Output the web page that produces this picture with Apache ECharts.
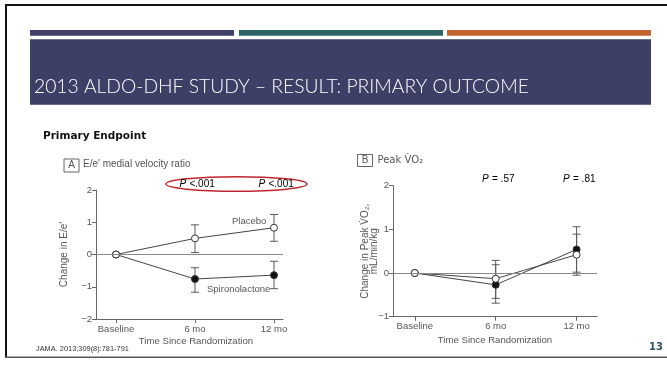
<!DOCTYPE html>
<html><head><meta charset="utf-8">
<script src="https://cdn.jsdelivr.net/npm/echarts@6/dist/echarts.min.js"></script>
<style>html,body{margin:0;padding:0;background:#fff}#c{width:667px;height:379px}</style>
</head><body><div id="c"></div>
<script>
const categories = ['Baseline', '6 mo', '12 mo'];
const xIdx = [0, 1, 2];
// Panel A: E/e' medial velocity ratio
const aPlacebo = [0, 0.50, 0.83];
const aPlaceboLow = [null, 0.06, 0.41];
const aPlaceboHigh = [null, 0.92, 1.24];
const aSpiro = [0, -0.76, -0.64];
const aSpiroLow = [null, -1.17, -1.06];
const aSpiroHigh = [null, -0.41, -0.21];
// Panel B: Peak VO2
const bPlacebo = [0, -0.13, 0.42];
const bPlaceboLow = [null, -0.58, -0.05];
const bPlaceboHigh = [null, 0.29, 0.89];
const bSpiro = [0, -0.27, 0.54];
const bSpiroLow = [null, -0.69, 0.02];
const bSpiroHigh = [null, 0.19, 1.06];
const aTicks = [-2, -1, 0, 1, 2];
const bTicks = [-1, 0, 1, 2];
const aPvals = ['<.001', '<.001'];
const bPvals = ['= .57', '= .81'];

const chart = echarts.init(document.getElementById('c'));
const FONT = 'Liberation Sans';
const pts = (ys) => xIdx.map((x, i) => [x, ys[i]]);
const errs = (lo, hi) => xIdx.filter((x, i) => lo[i] !== null).map((x) => [x, lo[x], hi[x]]);

function errRender(params, api) {
  const x = api.value(0);
  const lo = api.coord([x, api.value(1)]);
  const hi = api.coord([x, api.value(2)]);
  const w = 4;
  const st = { stroke: '#5a5a5a', lineWidth: 1 };
  return { type: 'group', children: [
    { type: 'line', shape: { x1: lo[0], y1: lo[1], x2: hi[0], y2: hi[1] }, style: st },
    { type: 'line', shape: { x1: lo[0] - w, y1: lo[1], x2: lo[0] + w, y2: lo[1] }, style: st },
    { type: 'line', shape: { x1: hi[0] - w, y1: hi[1], x2: hi[0] + w, y2: hi[1] }, style: st }
  ]};
}

function xAxisDef(gi, min, max) {
  return {
    type: 'value', gridIndex: gi, min: min, max: max, position: 'bottom',
    axisLine: { onZero: false, lineStyle: { color: '#666', width: 1 } },
    axisTick: { show: true, customValues: xIdx, length: 4, lineStyle: { color: '#666' } },
    axisLabel: { customValues: xIdx, formatter: (v) => categories[Math.round(v)], color: '#555', fontSize: 9.5, fontFamily: FONT, margin: 5 },
    splitLine: { show: false }
  };
}
function yAxisDef(gi, ticks, name, gap) {
  return {
    type: 'value', gridIndex: gi, min: ticks[0], max: ticks[ticks.length - 1], interval: 1,
    axisLine: { show: true, onZero: false, lineStyle: { color: '#666', width: 1 } },
    axisTick: { show: true, length: 4, lineStyle: { color: '#666' } },
    axisLabel: { color: '#555', fontSize: 9.5, fontFamily: FONT, margin: 4, formatter: (v) => v < 0 ? '\u2212' + Math.abs(v) : String(v) },
    splitLine: { show: false },
    name: name, nameLocation: 'middle', nameGap: gap, nameMoveOverlap: false,
    nameTextStyle: { color: '#555', fontSize: 10, fontFamily: FONT, lineHeight: 9 }
  };
}
const zeroLine = { silent: true, symbol: 'none', label: { show: false }, lineStyle: { color: '#888', type: 'solid', width: 1 }, data: [{ yAxis: 0 }] };
function lineSeries(gi, ys, filled, z, withZero) {
  const s = {
    type: 'line', xAxisIndex: gi, yAxisIndex: gi, data: pts(ys), z: z,
    symbol: 'circle', symbolSize: 7, showSymbol: true,
    lineStyle: { color: '#444', width: 1 },
    itemStyle: { color: filled ? '#111' : '#fff', borderColor: '#333', borderWidth: 1 },
    emphasis: { disabled: true }, animation: false
  };
  if (withZero) s.markLine = zeroLine;
  return s;
}
function errSeries(gi, lo, hi) {
  return { type: 'custom', xAxisIndex: gi, yAxisIndex: gi, data: errs(lo, hi), renderItem: errRender, z: 1,
    encode: { x: 0, y: [1, 2] }, animation: false, silent: true };
}
const pRich = { i: { fontStyle: 'italic', fontSize: 10, fontFamily: FONT, color: '#555' }, n: { fontSize: 10, fontFamily: FONT, color: '#555' } };

chart.setOption({
  animation: false,
  grid: [
    { left: 96, top: 190, width: 187, height: 129 },
    { left: 393, top: 185.7, width: 204, height: 131 }
  ],
  xAxis: [xAxisDef(0, -0.253, 2.114), xAxisDef(1, -0.269, 2.252)],
  yAxis: [
    yAxisDef(0, aTicks, "Change in E/e\u2032", 27),
    yAxisDef(1, bTicks, "Change in Peak V\u0307O\u2082,\nmL/min/kg", 14)
  ],
  series: [
    errSeries(0, aSpiroLow, aSpiroHigh),
    errSeries(0, aPlaceboLow, aPlaceboHigh),
    lineSeries(0, aSpiro, true, 3, true),
    lineSeries(0, aPlacebo, false, 4, false),
    errSeries(1, bSpiroLow, bSpiroHigh),
    errSeries(1, bPlaceboLow, bPlaceboHigh),
    lineSeries(1, bSpiro, true, 3, true),
    lineSeries(1, bPlacebo, false, 4, false)
  ],
  graphic: [
    // slide frame
    { type: 'rect', shape: { x: 5, y: 4, width: 662, height: 2 }, style: { fill: '#111' }, silent: true },
    { type: 'rect', shape: { x: 5, y: 4, width: 2, height: 354 }, style: { fill: '#111' }, silent: true },
    { type: 'rect', shape: { x: 5, y: 356.5, width: 662, height: 1.5 }, style: { fill: '#555' }, silent: true },
    // colored bars
    { type: 'rect', shape: { x: 30, y: 30, width: 204, height: 5.7 }, style: { fill: '#3f4068' }, silent: true },
    { type: 'rect', shape: { x: 239, y: 30, width: 204, height: 5.7 }, style: { fill: '#2e6466' }, silent: true },
    { type: 'rect', shape: { x: 447, y: 30, width: 204, height: 5.7 }, style: { fill: '#c4642e' }, silent: true },
    // title band
    { type: 'rect', shape: { x: 30, y: 39.3, width: 621, height: 65.4 }, style: { fill: '#3e3f66' }, silent: true },
    { type: 'text', x: 34, y: 96.5, style: { text: '2013 ALDO-DHF STUDY \u2013 RESULT: PRIMARY OUTCOME', fill: '#fff', font: '300 19.3px Lato', textVerticalAlign: 'bottom' }, silent: true },
    // subtitle
    { type: 'text', x: 43, y: 136, style: { text: 'Primary Endpoint', fill: '#111', font: 'bold 10.5px "DejaVu Sans"', textVerticalAlign: 'middle' }, silent: true },
    // panel A label
    { type: 'rect', shape: { x: 64, y: 159, width: 15, height: 13 }, style: { fill: 'none', stroke: '#666', lineWidth: 1 }, silent: true },
    { type: 'text', x: 71.5, y: 165.5, style: { text: 'A', fill: '#555', font: '10px "Liberation Sans"', textAlign: 'center', textVerticalAlign: 'middle' }, silent: true },
    { type: 'text', x: 83, y: 164.5, style: { text: 'E/e\u2032 medial velocity ratio', fill: '#555', font: '10px "Liberation Sans"', textVerticalAlign: 'middle' }, silent: true },
    // red ellipse and P values A
    { type: 'ellipse', shape: { cx: 236.5, cy: 184, rx: 70.5, ry: 7.3 }, style: { fill: 'none', stroke: '#c0262c', lineWidth: 1.5 }, silent: true },
    { type: 'text', x: 179.5, y: 184, style: { text: '{i|P} {n|' + aPvals[0] + '}', rich: pRich, textVerticalAlign: 'middle' }, silent: true },
    { type: 'text', x: 258.5, y: 184, style: { text: '{i|P} {n|' + aPvals[1] + '}', rich: pRich, textVerticalAlign: 'middle' }, silent: true },
    { type: 'text', x: 232, y: 221, style: { text: 'Placebo', fill: '#555', font: '9.5px "Liberation Sans"', textVerticalAlign: 'middle' }, silent: true },
    { type: 'text', x: 207, y: 289.5, style: { text: 'Spironolactone', fill: '#555', font: '9.5px "Liberation Sans"', textVerticalAlign: 'middle' }, silent: true },
    { type: 'text', x: 196, y: 341, style: { text: 'Time Since Randomization', fill: '#555', font: '9.6px "Liberation Sans"', textAlign: 'center', textVerticalAlign: 'middle' }, silent: true },
    // panel B label
    { type: 'rect', shape: { x: 357.5, y: 154.5, width: 15, height: 12 }, style: { fill: 'none', stroke: '#666', lineWidth: 1 }, silent: true },
    { type: 'text', x: 365, y: 160.5, style: { text: 'B', fill: '#555', font: '10px "Liberation Sans"', textAlign: 'center', textVerticalAlign: 'middle' }, silent: true },
    { type: 'text', x: 377.5, y: 160, style: { text: 'Peak V\u0307O\u2082', fill: '#555', font: '10px "DejaVu Sans"', textVerticalAlign: 'middle' }, silent: true },
    { type: 'text', x: 482, y: 179.5, style: { text: '{i|P} {n|' + bPvals[0] + '}', rich: pRich, textVerticalAlign: 'middle' }, silent: true },
    { type: 'text', x: 563, y: 179.5, style: { text: '{i|P} {n|' + bPvals[1] + '}', rich: pRich, textVerticalAlign: 'middle' }, silent: true },
    { type: 'text', x: 495, y: 340, style: { text: 'Time Since Randomization', fill: '#555', font: '9.6px "Liberation Sans"', textAlign: 'center', textVerticalAlign: 'middle' }, silent: true },
    // footer
    { type: 'text', x: 36, y: 349, style: { text: 'JAMA. 2013;309(8):781-791', fill: '#333', font: '7.4px "Liberation Sans"', textVerticalAlign: 'middle' }, silent: true },
    { type: 'text', x: 663, y: 347, style: { text: '13', fill: '#2f4f5a', font: 'bold 10px "DejaVu Sans"', textAlign: 'right', textVerticalAlign: 'middle' }, silent: true }
  ]
});
</script></body></html>
